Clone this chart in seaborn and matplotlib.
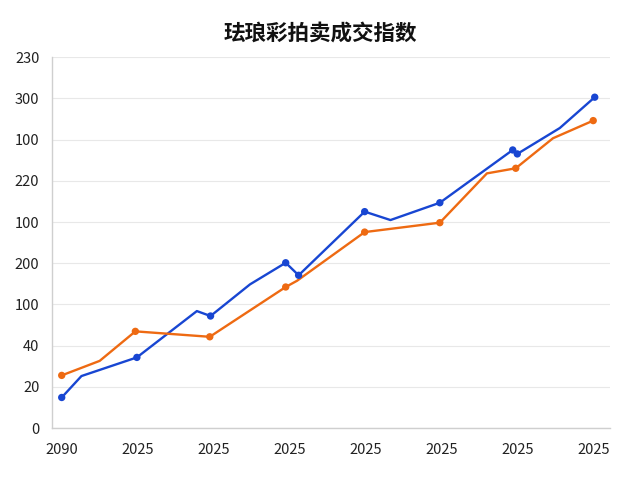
import matplotlib
matplotlib.use("Agg")
import matplotlib.pyplot as plt
import pandas as pd
import seaborn as sns

TITLE = "珐琅彩拍卖成交指数"

# x tick labels as printed on the chart (one per year slot)
x_labels = ["2090", "2025", "2025", "2025", "2025", "2025", "2025", "2025"]
# y tick labels as printed (bottom to top), gridlines every 25 units
y_ticks = [0, 25, 50, 75, 100, 125, 150, 175, 200, 225]
y_labels = ["0", "20", "40", "100", "200", "100", "220", "100", "300", "230"]

# blue series: vertices of the line (slot position, value)
blue_x = [0.0, 0.26, 0.99, 1.78, 1.96, 2.48, 2.95, 3.12, 3.99, 4.33, 4.98, 5.94, 6.0, 6.56, 7.02]
blue_y = [18.6, 31.6, 42.9, 71.0, 68.0, 87.2, 100.3, 92.7, 131.3, 126.2, 136.7, 168.7, 166.3, 182.0, 200.7]
blue_marked = [0, 2, 4, 6, 7, 8, 10, 11, 12, 14]

# orange series
orange_x = [0.0, 0.5, 0.97, 1.95, 2.95, 3.1, 3.99, 4.98, 5.6, 5.98, 6.47, 7.0]
orange_y = [32.0, 40.8, 58.7, 55.4, 85.6, 89.4, 118.9, 124.6, 154.5, 157.6, 175.8, 186.5]
orange_marked = [0, 2, 3, 4, 6, 7, 9, 11]

BLUE = "#1846d2"
ORANGE = "#ee6a12"

sns.set_theme(style="white")
plt.rcParams["font.family"] = ["Noto Sans CJK SC", "DejaVu Sans"]

fig = plt.figure(figsize=(6.4, 4.8), dpi=100)
ax = fig.add_axes([0.081, 0.108, 0.872, 0.773])

series = [
    (blue_x, blue_y, blue_marked, BLUE),
    (orange_x, orange_y, orange_marked, ORANGE),
]
for xs, ys, marked, color in series:
    df = pd.DataFrame({"x": xs, "y": ys})
    sns.lineplot(data=df, x="x", y="y", sort=False, color=color, linewidth=1.7, ax=ax)
    pts = df.iloc[marked]
    sns.scatterplot(data=pts, x="x", y="y", color=color, s=28, edgecolor="none", ax=ax, zorder=4)

ax.set_xlim(-0.13, 7.22)
ax.set_ylim(0, 225)
ax.set_xticks(range(len(x_labels)))
ax.set_xticklabels(x_labels)
ax.set_yticks(y_ticks)
ax.set_yticklabels(y_labels)
ax.tick_params(axis="both", length=0, labelsize=10.5, colors="#222222")
ax.tick_params(axis="y", pad=9)
ax.tick_params(axis="x", pad=11)
ax.set_xlabel("")
ax.set_ylabel("")

ax.grid(axis="y", color="#e8e8e8", linewidth=0.8)
ax.set_axisbelow(True)
for side in ["top", "right"]:
    ax.spines[side].set_visible(False)
for side in ["left", "bottom"]:
    ax.spines[side].set_color("#cfcfcf")
    ax.spines[side].set_linewidth(1.0)

fig.text(0.5, 0.931, TITLE, ha="center", va="center", fontsize=15.5, fontweight="bold", color="#111111")

fig.savefig("out.png", dpi=100)
